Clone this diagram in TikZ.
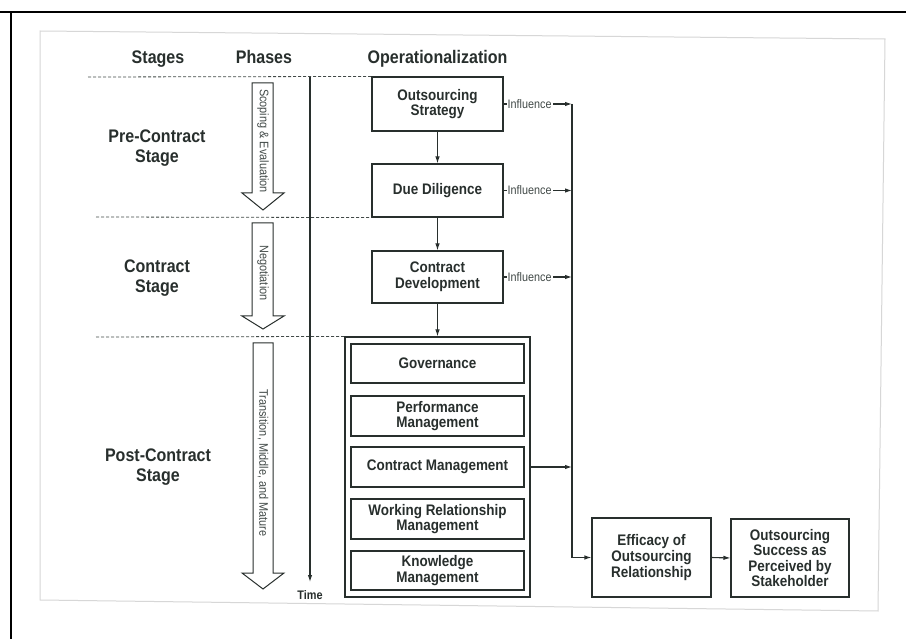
\documentclass[tikz,border=0pt]{standalone}
\usepackage{fontspec}
\setmainfont[FakeStretch=0.88]{Liberation Sans}
\usetikzlibrary{arrows.meta}
\definecolor{ink}{RGB}{40,47,45}
\definecolor{inklight}{RGB}{66,74,72}
\definecolor{scan}{RGB}{215,215,215}
\tikzset{
  box/.style={draw=ink, line width=1.1pt, align=center, text=ink, font=\bfseries\fontsize{15.3}{15.6}\selectfont, inner sep=2pt},
  conn/.style={draw=ink, line width=1.1pt, -{Latex[length=7pt,width=4.5pt]}},
  dashline/.style={draw=inklight, line width=0.8pt, dash pattern=on 3pt off 2pt},
  hdr/.style={text=ink, font=\bfseries\fontsize{18.2}{20}\selectfont, align=center},
  infl/.style={text=inklight, font=\fontsize{12.3}{13}\selectfont, fill=white, inner sep=1pt},
  phasearrow/.style={draw=ink, line width=1pt, fill=white},
  phasetext/.style={text=inklight, font=\fontsize{12.4}{13}\selectfont, rotate=-90, inner sep=0pt},
}
\begin{document}
\begin{tikzpicture}[x=1pt,y=-1pt]
\useasboundingbox (0,0) rectangle (906,639);
\fill[white] (0,0) rectangle (906,639);
% scan edges
\draw[scan, line width=1pt] (40,31) -- (885,39) -- (878,611) -- (40,600) -- cycle;
% black border
\draw[black, line width=2.6pt] (0,12) -- (906,12);
\draw[black, line width=2.6pt] (11,12) -- (11,639);

% headers
\node[hdr, anchor=base] (hstages) at (158,64) {Stages};
\node[hdr, anchor=base] (hphases) at (264,64) {Phases};
\node[hdr, anchor=base] (hoper) at (437.5,64) {Operationalization};

% stage labels
\node[hdr] (spre) at (157,148) {Pre-Contract\\Stage};
\node[hdr] (scon) at (157,278) {Contract\\Stage};
\node[hdr] (spost) at (158,467) {Post-Contract\\Stage};

% operationalization boxes
\node[box, minimum width=131pt, minimum height=54pt] (os) at (437.5,104) {Outsourcing\\Strategy};
\node[box, minimum width=131pt, minimum height=53pt] (dd) at (437.5,190.5) {Due Diligence};
\node[box, minimum width=131pt, minimum height=52pt] (cd) at (437.5,277) {Contract\\Development};
\node[box, minimum width=185pt, minimum height=260pt] (big) at (437.5,467) {};
\node[box, minimum width=173pt, minimum height=39pt] (gov) at (437.5,363.5) {Governance};
\node[box, minimum width=173pt, minimum height=40pt] (pm) at (437.5,416) {Performance\\Management};
\node[box, minimum width=173pt, minimum height=40pt] (cm) at (437.5,467) {Contract Management};
\node[box, minimum width=173pt, minimum height=40pt] (wr) at (437.5,519) {Working Relationship\\Management};
\node[box, minimum width=173pt, minimum height=39pt] (km) at (437.5,570.5) {Knowledge\\Management};
\node[box, minimum width=119pt, minimum height=79pt] (eff) at (651.5,557.5) {Efficacy of\\Outsourcing\\Relationship};
\node[box, minimum width=118pt, minimum height=78pt] (succ) at (790,558) {Outsourcing\\Success as\\Perceived by\\Stakeholder};

% dashed stage separators
\coordinate (d1) at (88,77);
\coordinate (d2) at (96,217);
\coordinate (d3) at (96,337);
\draw[dashline] (d1) -- (os.north west);
\draw[dashline] (d2) -- (dd.south west);
\draw[dashline] (d3) -- (big.north west);

% time line
\coordinate (ttop) at (310,77);
\coordinate (tbot) at (310,582);
\draw[conn] (ttop) -- (tbot);
\node[text=ink, font=\bfseries\fontsize{12.4}{13}\selectfont] (time) at (310,595) {Time};

% phase block arrows
\draw[phasearrow] (252,83) -- (273,83) -- (273,193) -- (284,193) -- (263,210) -- (242,193) -- (252,193) -- cycle;
\node[phasetext] (ph1) at (263,141) {Scoping \& Evaluation};
\draw[phasearrow] (252,223) -- (273,223) -- (273,316) -- (284,316) -- (263,329) -- (242,316) -- (252,316) -- cycle;
\node[phasetext] (ph2) at (263,273) {Negotiation};
\draw[phasearrow] (253,343) -- (273,343) -- (273,573) -- (284,573) -- (263,589) -- (242,573) -- (253,573) -- cycle;
\node[phasetext] (ph3) at (263,463) {Transition, Middle, and Mature};

% vertical flow
\draw[conn] (os.south) -- (dd.north);
\draw[conn] (dd.south) -- (cd.north);
\draw[conn] (cd.south) -- (big.north);

% influence bus
\coordinate (vtop) at (572,104);
\draw[conn] (vtop) |- (eff.west);
\draw[conn] (os.east) -- (os.east -| vtop) node[infl, pos=0.38] {Influence};
\draw[conn] (dd.east) -- (dd.east -| vtop) node[infl, pos=0.38] {Influence};
\draw[conn] (cd.east) -- (cd.east -| vtop) node[infl, pos=0.38] {Influence};
\draw[conn] (cm.east -| big.east) -- (cm.east -| vtop);
\draw[conn] (eff.east) -- (succ.west);
\end{tikzpicture}
\end{document}
